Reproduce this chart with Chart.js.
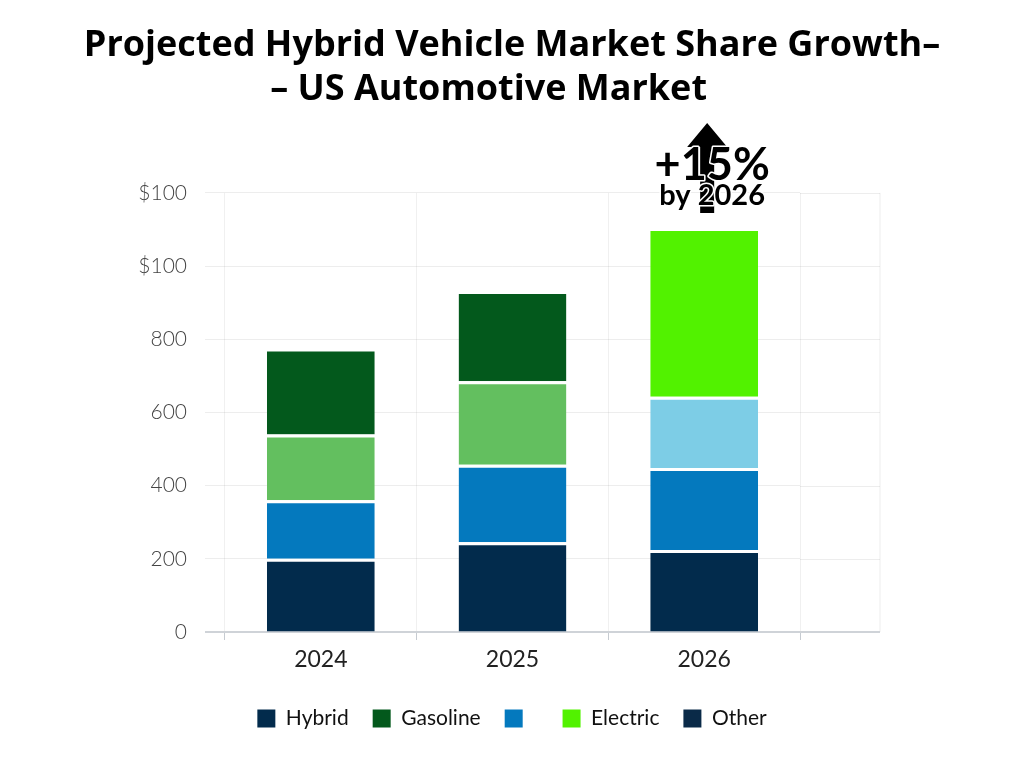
<!DOCTYPE html>
<html>
<head>
<meta charset="utf-8">
<script src="https://cdn.jsdelivr.net/npm/chart.js@4"></script>
<style>
  html, body { margin: 0; padding: 0; background: #fff; }
  #wrap { width: 1024px; height: 768px; }
</style>
</head>
<body>
<div id="wrap"><canvas id="ShareChart"></canvas></div>
<script>
// data
const years = ['2024', '2025', '2026'];
const hybrid = [200, 245, 224];
const blueShare = [160, 212, 224];
const midShare = [180, 228, 195];
const gasoline = [235, 247, null];
const electric = [null, null, 461];
const other = [null, null, null];
const yTickLabels = ['0', '200', '400', '600', '800', '$100', '$100'];
const legendOrder = ['Hybrid', 'Gasoline', ' ', 'Electric', 'Other'];

const gap = { top: 3, right: 0, bottom: 0, left: 0 };

// grid lines run on a bit past the plot on the right, plus the growth arrow
const extrasPlugin = {
    id: 'extras',
    beforeDatasetsDraw(chart) {
        const { ctx, chartArea, scales } = chart;
        ctx.save();
        ctx.strokeStyle = 'rgba(0,0,0,0.07)';
        ctx.lineWidth = 1;
        scales.y.ticks.forEach((t) => {
            const y = Math.round(scales.y.getPixelForValue(t.value)) + 0.5;
            ctx.beginPath();
            ctx.moveTo(chartArea.right, y);
            ctx.lineTo(chartArea.right + 80, y);
            ctx.stroke();
        });
        ctx.beginPath();
        ctx.moveTo(chartArea.right + 80, chartArea.top);
        ctx.lineTo(chartArea.right + 80, chartArea.bottom);
        ctx.stroke();
        ctx.strokeStyle = '#cfd3d8';
        ctx.lineWidth = 2;
        ctx.beginPath();
        ctx.moveTo(chartArea.left - 20, chartArea.bottom);
        ctx.lineTo(chartArea.right + 80, chartArea.bottom);
        ctx.stroke();
        ctx.restore();
    },
    afterDraw(chart) {
        const { ctx, scales } = chart;
        const last = years.length - 1;
        const total = hybrid[last] + blueShare[last] + midShare[last] + (electric[last] || 0);
        const cx = scales.x.getPixelForValue(last) + 3;
        const top = scales.y.getPixelForValue(total);
        ctx.save();
        // arrow
        ctx.fillStyle = '#000';
        ctx.beginPath();
        ctx.moveTo(cx, top - 105);
        ctx.lineTo(cx + 20, top - 81);
        ctx.lineTo(cx + 7, top - 81);
        ctx.lineTo(cx + 7, top - 15);
        ctx.lineTo(cx - 7, top - 15);
        ctx.lineTo(cx - 7, top - 81);
        ctx.lineTo(cx - 20, top - 81);
        ctx.closePath();
        ctx.fill();
        // label
        ctx.textAlign = 'center';
        ctx.textBaseline = 'alphabetic';
        ctx.lineJoin = 'round';
        ctx.strokeStyle = '#fff';
        ctx.lineWidth = 3;
        ctx.font = 'bold 45px Lato';
        ctx.strokeText('+15%', cx + 5, top - 48);
        ctx.fillText('+15%', cx + 5, top - 48);
        ctx.font = 'bold 29px Lato';
        ctx.strokeText('by 2026', cx + 5, top - 23);
        ctx.fillText('by 2026', cx + 5, top - 23);
        ctx.restore();
    }
};

const ctx = document.getElementById('ShareChart').getContext('2d');

const ShareChart = new Chart(ctx, {
    type: 'bar',
    data: {
        labels: years,
        datasets: [
            { label: 'Hybrid', data: hybrid, backgroundColor: '#022b4c' },
            { label: ' ', data: blueShare, backgroundColor: '#0479be' },
            { label: 'Mid', data: midShare, backgroundColor: ['#63bf5f', '#63bf5f', '#7dcde6'] },
            { label: 'Gasoline', data: gasoline, backgroundColor: '#03591c' },
            { label: 'Electric', data: electric, backgroundColor: '#52f200' },
            { label: 'Other', data: other, backgroundColor: '#0a2a48' }
        ].map((d) => Object.assign(d, {
            borderColor: '#ffffff',
            borderWidth: gap,
            borderSkipped: false,
            barPercentage: 0.5625,
            categoryPercentage: 1
        }))
    },
    options: {
        responsive: true,
        maintainAspectRatio: false,
        animation: false,
        layout: {
            padding: { left: 0, right: 0, top: 0, bottom: 29 }
        },
        plugins: {
            title: {
                display: true,
                text: ['Projected Hybrid Vehicle Market Share Growth–', '– US Automotive Market     '],
                color: '#000',
                font: { family: 'Open Sans', size: 36, weight: 'bold', lineHeight: 1.22 },
                padding: { top: 24, bottom: 81 }
            },
            legend: {
                position: 'bottom',
                labels: {
                    color: '#111',
                    font: { family: 'Lato', size: 21 },
                    boxWidth: 18,
                    boxHeight: 18,
                    padding: 24,
                    filter: (item) => legendOrder.includes(item.text),
                    sort: (a, b) => legendOrder.indexOf(a.text) - legendOrder.indexOf(b.text),
                    generateLabels: (chart) => Chart.defaults.plugins.legend.labels.generateLabels(chart)
                        .map((item) => Object.assign(item, { lineWidth: 0 }))
                }
            },
            tooltip: { enabled: false }
        },
        scales: {
            x: {
                stacked: true,
                afterFit: (scale) => { scale.height = 52; },
                grid: {
                    offset: true,
                    color: 'rgba(0,0,0,0.06)',
                    tickColor: '#c6cbd1',
                    tickLength: 8
                },
                border: { display: false },
                ticks: {
                    color: '#222',
                    font: { family: 'Lato', size: 23 },
                    padding: 6
                }
            },
            y: {
                stacked: true,
                min: 0,
                max: 1200,
                grid: {
                    color: 'rgba(0,0,0,0.07)',
                    tickLength: 20
                },
                border: { display: false },
                afterFit: (scale) => { scale.width = 225; },
                ticks: {
                    stepSize: 200,
                    color: '#444',
                    padding: 18,
                    font: { family: 'Lato', size: 21, weight: 300 },
                    callback: (value) => yTickLabels[value / 200]
                }
            },
            // empty axis that only holds the space right of the plot
            yRight: {
                position: 'right',
                grid: { display: false },
                border: { display: false },
                ticks: { display: false },
                afterFit: (scale) => { scale.width = 224; }
            }
        }
    },
    plugins: [extrasPlugin]
});
</script>
</body>
</html>
